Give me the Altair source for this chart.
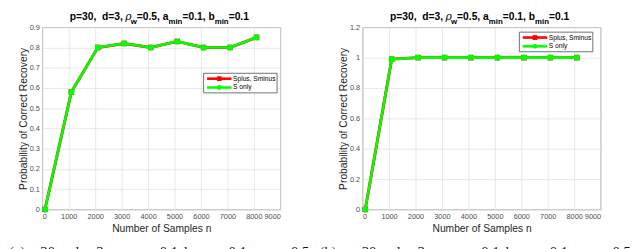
import altair as alt
import pandas as pd

# ---------------- data ----------------
n_samples = [100, 1100, 2100, 3100, 4100, 5100, 6100, 7100, 8100]
splus_a = [0.0, 0.58, 0.80, 0.82, 0.80, 0.83, 0.80, 0.80, 0.85]
sonly_a = [0.0, 0.58, 0.80, 0.82, 0.80, 0.83, 0.80, 0.80, 0.85]
splus_b = [0.0, 0.99, 1.0, 1.0, 1.0, 1.0, 1.0, 1.0, 1.0]
sonly_b = [0.0, 0.99, 1.0, 1.0, 1.0, 1.0, 1.0, 1.0, 1.0]
series_names = ["Splus, Sminus", "S only"]
x_ticks = [0, 1000, 2000, 3000, 4000, 5000, 6000, 7000, 8000, 9000]
y_ticks_a = [0, 0.1, 0.2, 0.3, 0.4, 0.5, 0.6, 0.7, 0.8, 0.9]
y_ticks_b = [0, 0.2, 0.4, 0.6, 0.8, 1.0, 1.2]
x_title = "Number of Samples n"
y_title = "Probability of Correct Recovery"
# title pieces: (text, kind)
title_parts = [("p=30,", "main"), ("d=3,", "main"), ("ρ", "greek"), ("w", "sub"),
               ("=0.5, a", "main"), ("min", "sub"), ("=0.1, b", "main"),
               ("min", "sub"), ("=0.1", "main")]
caption_a = ["(a)", "30", "d", "3", "0.1", "b", "0.1", "0.5"]
caption_b = ["(b)", "30", "d", "3", "0.1", "b", "0.1", "0.5"]

# ---------------- style / layout ----------------
W, H = 243, 186
RED = "#ff0000"
GREEN = "#00ff00"
FONT = "Liberation Sans"
TXT = "#262626"

AB = {'p': 611, '=': 584, '3': 556, '0': 556, ',': 278, ' ': 278, 'd': 611, '.': 278,
      '5': 556, 'a': 556, '1': 556, 'b': 611, 'm': 889, 'i': 278, 'n': 611, 'w': 778}
MAIN_FS, SUB_FS, GREEK_W = 10.5, 8, 5.0
CAP_Y = 234.5


def tw(s, fs):
    return sum(AB[c] for c in s) * fs / 1000.0


def one():
    return pd.DataFrame({"k": [0]})


def text_layer(txt, x, y, size, weight="normal", style="normal", font=FONT, color=TXT):
    return alt.Chart(one()).mark_text(
        text=txt, align="left", baseline="alphabetic", font=font, fontSize=size,
        fontWeight=weight, fontStyle=style, color=color,
    ).encode(x=alt.value(x), y=alt.value(y))


def title_layers():
    layers = []
    x = 28.0
    widths = {"p=30,": tw("p=30,  ", MAIN_FS), "d=3,": tw("d=3, ", MAIN_FS)}
    for txt, kind in title_parts:
        if kind == "main":
            layers.append(text_layer(txt, x, -7, MAIN_FS, weight="bold", color="black"))
            x += widths.get(txt, tw(txt, MAIN_FS))
        elif kind == "sub":
            layers.append(text_layer(txt, x, -3.5, SUB_FS, weight="bold", color="black"))
            x += tw(txt, SUB_FS)
        else:
            layers.append(text_layer(txt, x - 0.5, -7, 11, style="italic",
                                     font="DejaVu Serif", color="black"))
            x += GREEK_W
    return layers


CAP_OFFS = [0, 40, 72, 97, 162, 187, 232, 296]


def caption_layers(tokens, base, first_x):
    out = []
    for i, (t, off) in enumerate(zip(tokens, CAP_OFFS)):
        xx = first_x if i == 0 else base + off
        out.append(text_layer(t, xx, CAP_Y, 15, font="Liberation Serif", color="#111111"))
    return out


def legend_layers(lx, ly):
    box = alt.Chart(one()).mark_rect(fill="white", stroke="#333333", strokeWidth=0.7).encode(
        x=alt.value(lx), x2=alt.value(lx + 75), y=alt.value(ly), y2=alt.value(ly + 20))
    out = [box]
    specs = [(series_names[0], RED, "square", 5.5), (series_names[1], GREEN, "circle", 14.5)]
    for name, col, shape, dy in specs:
        out.append(alt.Chart(one()).mark_rule(color=col, strokeWidth=2.6).encode(
            x=alt.value(lx + 3.5), x2=alt.value(lx + 28.5), y=alt.value(ly + dy)))
        out.append(alt.Chart(one()).mark_point(shape=shape, filled=True, color=col,
                                               size=24, opacity=1).encode(
            x=alt.value(lx + 16), y=alt.value(ly + dy)))
        out.append(alt.Chart(one()).mark_text(
            text=name, align="left", baseline="middle", font=FONT, fontSize=6.8,
            color="black").encode(x=alt.value(lx + 30), y=alt.value(ly + dy)))
    return out


def panel(red_vals, green_vals, y_max, y_ticks, lx, ly, cap_tokens, cap_base, cap_first):
    df = pd.DataFrame({
        "n": n_samples + n_samples,
        "p": red_vals + green_vals,
        "s": [series_names[0]] * len(n_samples) + [series_names[1]] * len(n_samples),
    })
    xenc = alt.X("n:Q", scale=alt.Scale(domain=[0, 9000], nice=False, zero=False),
                 axis=alt.Axis(values=x_ticks, format="d", title=x_title,
                               labelPadding=3, titleX=W / 2, titleY=22,
                               titleBaseline="alphabetic", titleAlign="center"))
    yenc = alt.Y("p:Q", scale=alt.Scale(domain=[0, y_max], nice=False, zero=True),
                 axis=alt.Axis(values=y_ticks, format="~g", title=y_title,
                               labelPadding=3, titleX=-19, titleY=H / 2,
                               titleAngle=-90, titleBaseline="middle",
                               titleAlign="center"))
    base = alt.Chart(df).encode(x=xenc, y=yenc)
    red = base.transform_filter(alt.datum.s == series_names[0])
    green = base.transform_filter(alt.datum.s == series_names[1])
    layers = [
        red.mark_line(color=RED, strokeWidth=3.0),
        red.mark_point(shape="square", filled=True, color=RED, size=32, opacity=1),
        green.mark_line(color=GREEN, strokeWidth=2.6),
        green.mark_point(shape="circle", filled=True, color=GREEN, size=38, opacity=1),
    ]
    layers += legend_layers(lx, ly)
    layers += title_layers()
    layers += caption_layers(cap_tokens, cap_base, cap_first)
    return alt.layer(*layers).properties(width=W, height=H)


left = panel(splus_a, sonly_a, 0.9, y_ticks_a, 164.7, 47, caption_a, -42, -34)
right = panel(splus_b, sonly_b, 1.2, y_ticks_b, 160, 5, caption_b, -41, -44)

chart = alt.hconcat(left, right, spacing=84, bounds="flush", padding=0).configure_view(
    stroke="#8a8a8a", strokeWidth=0.8
).configure_axis(
    grid=True, gridColor="#e2e2e2", gridWidth=0.8, domain=False, ticks=False,
    labelFont=FONT, labelFontSize=7.5, labelColor="#4d4d4d",
    titleFont=FONT, titleFontSize=10.5, titleFontWeight="normal", titleColor=TXT,
)

chart.save("out.html", embed_options={"renderer": "svg", "actions": False})
